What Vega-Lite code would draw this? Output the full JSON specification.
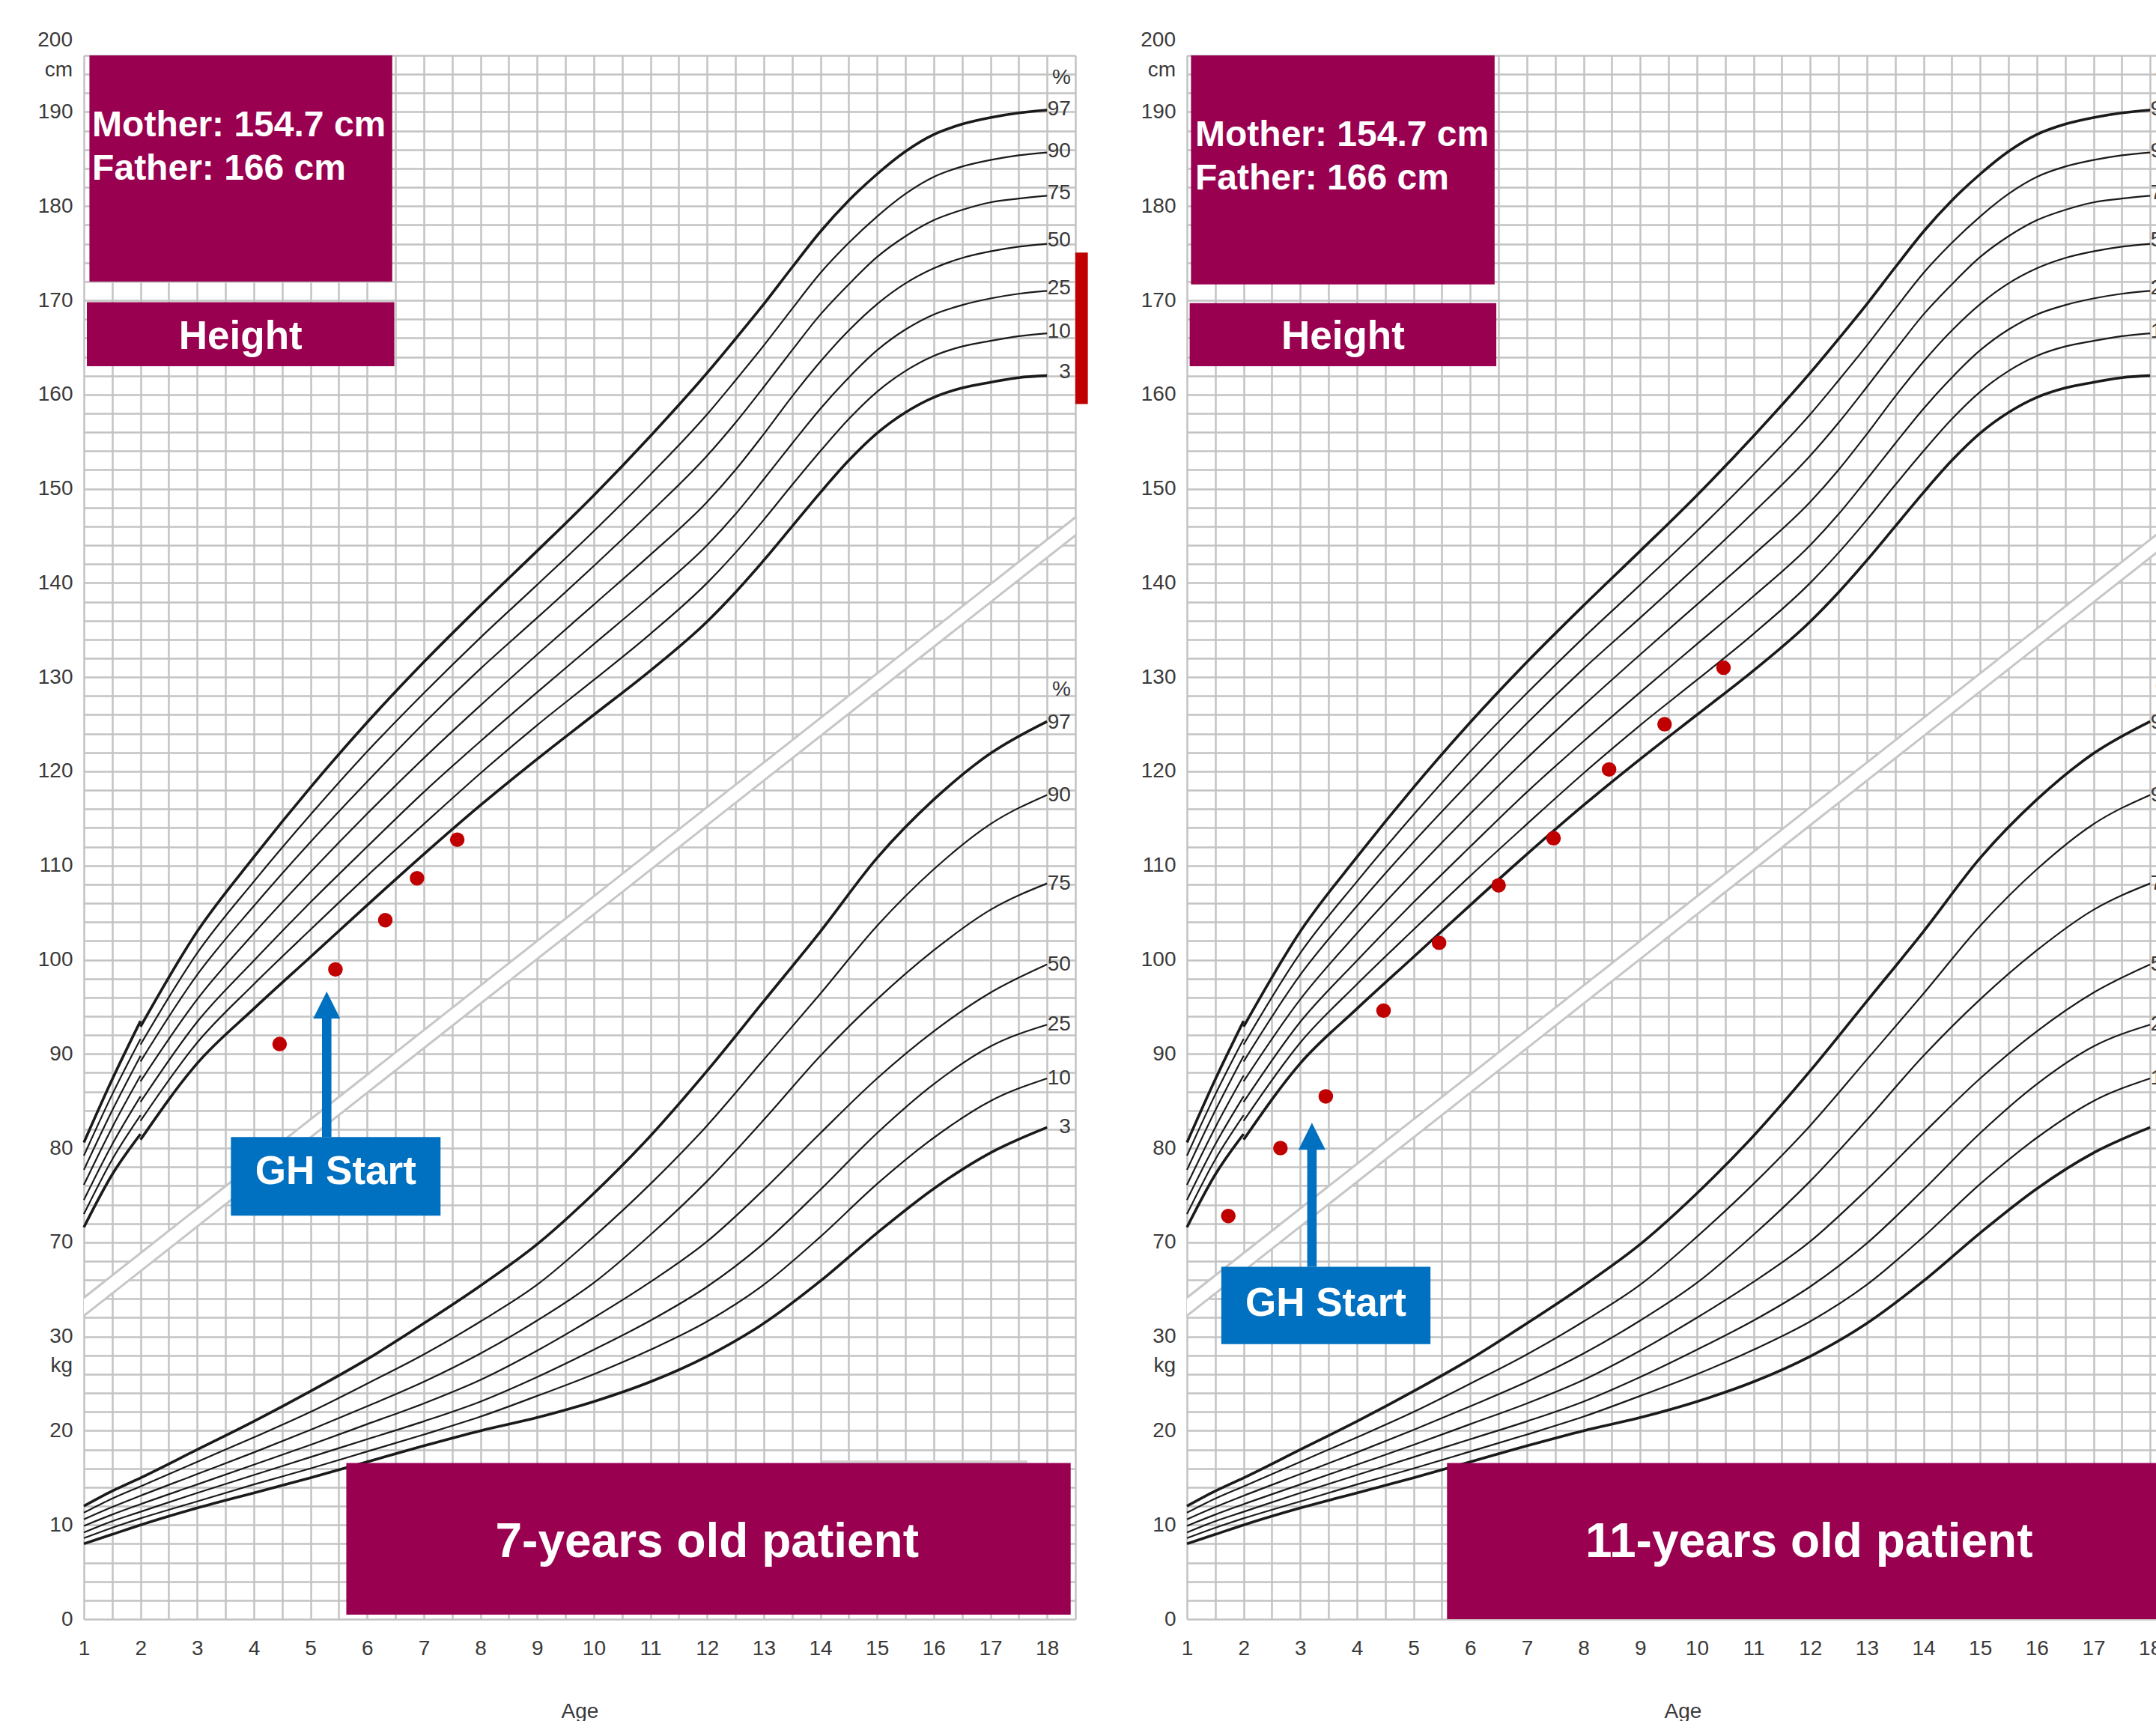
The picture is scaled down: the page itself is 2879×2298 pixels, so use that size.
{
  "$schema": "https://vega.github.io/schema/vega-lite/v6.json",
  "background": "white",
  "padding": {"left": 50, "top": 39, "right": 0, "bottom": 0},
  "spacing": 149,
  "bounds": "flush",
  "config": {
    "view": {"stroke": null},
    "axis": {"domain": false, "ticks": false, "labelFont": "Liberation Sans", "labelFontSize": 28, "labelColor": "#3a3a3a",
      "titleFont": "Liberation Sans", "titleFontSize": 28, "titleFontWeight": "normal", "titleColor": "#3a3a3a"}
  },
  "datasets": {
    "height": [
      {"age":1,"pct":97,"seg":"a","cm":80.6},{"age":1.5,"pct":97,"seg":"a","cm":87.3},{"age":2,"pct":97,"seg":"a","cm":93.5},{"age":2,"pct":97,"seg":"b","cm":92.9},{"age":3,"pct":97,"seg":"b","cm":103.0},{"age":4,"pct":97,"seg":"b","cm":110.9},{"age":5,"pct":97,"seg":"b","cm":118.3},{"age":6,"pct":97,"seg":"b","cm":125.2},{"age":7,"pct":97,"seg":"b","cm":131.6},{"age":8,"pct":97,"seg":"b","cm":137.6},{"age":9,"pct":97,"seg":"b","cm":143.4},{"age":10,"pct":97,"seg":"b","cm":149.3},{"age":11,"pct":97,"seg":"b","cm":155.6},{"age":12,"pct":97,"seg":"b","cm":162.3},{"age":12.5,"pct":97,"seg":"b","cm":165.9},{"age":13,"pct":97,"seg":"b","cm":169.6},{"age":13.5,"pct":97,"seg":"b","cm":173.5},{"age":14,"pct":97,"seg":"b","cm":177.3},{"age":14.5,"pct":97,"seg":"b","cm":180.6},{"age":15,"pct":97,"seg":"b","cm":183.4},{"age":15.5,"pct":97,"seg":"b","cm":185.8},{"age":16,"pct":97,"seg":"b","cm":187.6},{"age":16.5,"pct":97,"seg":"b","cm":188.7},{"age":17,"pct":97,"seg":"b","cm":189.4},{"age":17.5,"pct":97,"seg":"b","cm":189.9},{"age":18,"pct":97,"seg":"b","cm":190.2},
      {"age":1,"pct":90,"seg":"a","cm":79.2},{"age":1.5,"pct":90,"seg":"a","cm":85.7},{"age":2,"pct":90,"seg":"a","cm":91.6},{"age":2,"pct":90,"seg":"b","cm":91.0},{"age":3,"pct":90,"seg":"b","cm":100.7},{"age":4,"pct":90,"seg":"b","cm":108.3},{"age":5,"pct":90,"seg":"b","cm":115.4},{"age":6,"pct":90,"seg":"b","cm":122.1},{"age":7,"pct":90,"seg":"b","cm":128.3},{"age":8,"pct":90,"seg":"b","cm":134.2},{"age":9,"pct":90,"seg":"b","cm":139.8},{"age":10,"pct":90,"seg":"b","cm":145.5},{"age":11,"pct":90,"seg":"b","cm":151.5},{"age":12,"pct":90,"seg":"b","cm":157.9},{"age":12.5,"pct":90,"seg":"b","cm":161.5},{"age":13,"pct":90,"seg":"b","cm":165.2},{"age":13.5,"pct":90,"seg":"b","cm":169.1},{"age":14,"pct":90,"seg":"b","cm":172.9},{"age":14.5,"pct":90,"seg":"b","cm":176.1},{"age":15,"pct":90,"seg":"b","cm":178.9},{"age":15.5,"pct":90,"seg":"b","cm":181.3},{"age":16,"pct":90,"seg":"b","cm":183.1},{"age":16.5,"pct":90,"seg":"b","cm":184.2},{"age":17,"pct":90,"seg":"b","cm":184.9},{"age":17.5,"pct":90,"seg":"b","cm":185.4},{"age":18,"pct":90,"seg":"b","cm":185.7},
      {"age":1,"pct":75,"seg":"a","cm":77.7},{"age":1.5,"pct":75,"seg":"a","cm":84.0},{"age":2,"pct":75,"seg":"a","cm":89.8},{"age":2,"pct":75,"seg":"b","cm":89.2},{"age":3,"pct":75,"seg":"b","cm":98.4},{"age":4,"pct":75,"seg":"b","cm":105.7},{"age":5,"pct":75,"seg":"b","cm":112.5},{"age":6,"pct":75,"seg":"b","cm":118.9},{"age":7,"pct":75,"seg":"b","cm":125.1},{"age":8,"pct":75,"seg":"b","cm":130.9},{"age":9,"pct":75,"seg":"b","cm":136.3},{"age":10,"pct":75,"seg":"b","cm":141.8},{"age":11,"pct":75,"seg":"b","cm":147.5},{"age":12,"pct":75,"seg":"b","cm":153.5},{"age":12.5,"pct":75,"seg":"b","cm":157.0},{"age":13,"pct":75,"seg":"b","cm":160.8},{"age":13.5,"pct":75,"seg":"b","cm":164.7},{"age":14,"pct":75,"seg":"b","cm":168.5},{"age":14.5,"pct":75,"seg":"b","cm":171.7},{"age":15,"pct":75,"seg":"b","cm":174.6},{"age":15.5,"pct":75,"seg":"b","cm":176.8},{"age":16,"pct":75,"seg":"b","cm":178.5},{"age":16.5,"pct":75,"seg":"b","cm":179.6},{"age":17,"pct":75,"seg":"b","cm":180.4},{"age":17.5,"pct":75,"seg":"b","cm":180.8},{"age":18,"pct":75,"seg":"b","cm":181.1},
      {"age":1,"pct":50,"seg":"a","cm":76.1},{"age":1.5,"pct":50,"seg":"a","cm":82.2},{"age":2,"pct":50,"seg":"a","cm":87.7},{"age":2,"pct":50,"seg":"b","cm":87.1},{"age":3,"pct":50,"seg":"b","cm":95.8},{"age":4,"pct":50,"seg":"b","cm":102.8},{"age":5,"pct":50,"seg":"b","cm":109.3},{"age":6,"pct":50,"seg":"b","cm":115.5},{"age":7,"pct":50,"seg":"b","cm":121.4},{"age":8,"pct":50,"seg":"b","cm":127.0},{"age":9,"pct":50,"seg":"b","cm":132.4},{"age":10,"pct":50,"seg":"b","cm":137.7},{"age":11,"pct":50,"seg":"b","cm":143.0},{"age":12,"pct":50,"seg":"b","cm":148.6},{"age":12.5,"pct":50,"seg":"b","cm":152.0},{"age":13,"pct":50,"seg":"b","cm":155.8},{"age":13.5,"pct":50,"seg":"b","cm":159.8},{"age":14,"pct":50,"seg":"b","cm":163.5},{"age":14.5,"pct":50,"seg":"b","cm":166.8},{"age":15,"pct":50,"seg":"b","cm":169.6},{"age":15.5,"pct":50,"seg":"b","cm":171.8},{"age":16,"pct":50,"seg":"b","cm":173.4},{"age":16.5,"pct":50,"seg":"b","cm":174.5},{"age":17,"pct":50,"seg":"b","cm":175.2},{"age":17.5,"pct":50,"seg":"b","cm":175.7},{"age":18,"pct":50,"seg":"b","cm":176.0},
      {"age":1,"pct":25,"seg":"a","cm":74.5},{"age":1.5,"pct":25,"seg":"a","cm":80.4},{"age":2,"pct":25,"seg":"a","cm":85.5},{"age":2,"pct":25,"seg":"b","cm":84.9},{"age":3,"pct":25,"seg":"b","cm":93.4},{"age":4,"pct":25,"seg":"b","cm":99.9},{"age":5,"pct":25,"seg":"b","cm":106.1},{"age":6,"pct":25,"seg":"b","cm":112.0},{"age":7,"pct":25,"seg":"b","cm":117.8},{"age":8,"pct":25,"seg":"b","cm":123.2},{"age":9,"pct":25,"seg":"b","cm":128.4},{"age":10,"pct":25,"seg":"b","cm":133.5},{"age":11,"pct":25,"seg":"b","cm":138.6},{"age":12,"pct":25,"seg":"b","cm":144.0},{"age":12.5,"pct":25,"seg":"b","cm":147.3},{"age":13,"pct":25,"seg":"b","cm":151.0},{"age":13.5,"pct":25,"seg":"b","cm":154.8},{"age":14,"pct":25,"seg":"b","cm":158.5},{"age":14.5,"pct":25,"seg":"b","cm":161.8},{"age":15,"pct":25,"seg":"b","cm":164.7},{"age":15.5,"pct":25,"seg":"b","cm":166.9},{"age":16,"pct":25,"seg":"b","cm":168.5},{"age":16.5,"pct":25,"seg":"b","cm":169.5},{"age":17,"pct":25,"seg":"b","cm":170.2},{"age":17.5,"pct":25,"seg":"b","cm":170.7},{"age":18,"pct":25,"seg":"b","cm":171.0},
      {"age":1,"pct":10,"seg":"a","cm":73.0},{"age":1.5,"pct":10,"seg":"a","cm":78.8},{"age":2,"pct":10,"seg":"a","cm":83.5},{"age":2,"pct":10,"seg":"b","cm":82.9},{"age":3,"pct":10,"seg":"b","cm":91.2},{"age":4,"pct":10,"seg":"b","cm":97.4},{"age":5,"pct":10,"seg":"b","cm":103.2},{"age":6,"pct":10,"seg":"b","cm":108.9},{"age":7,"pct":10,"seg":"b","cm":114.4},{"age":8,"pct":10,"seg":"b","cm":119.8},{"age":9,"pct":10,"seg":"b","cm":124.9},{"age":10,"pct":10,"seg":"b","cm":129.7},{"age":11,"pct":10,"seg":"b","cm":134.6},{"age":12,"pct":10,"seg":"b","cm":140.0},{"age":12.5,"pct":10,"seg":"b","cm":143.2},{"age":13,"pct":10,"seg":"b","cm":146.7},{"age":13.5,"pct":10,"seg":"b","cm":150.4},{"age":14,"pct":10,"seg":"b","cm":154.0},{"age":14.5,"pct":10,"seg":"b","cm":157.4},{"age":15,"pct":10,"seg":"b","cm":160.3},{"age":15.5,"pct":10,"seg":"b","cm":162.5},{"age":16,"pct":10,"seg":"b","cm":164.1},{"age":16.5,"pct":10,"seg":"b","cm":165.1},{"age":17,"pct":10,"seg":"b","cm":165.7},{"age":17.5,"pct":10,"seg":"b","cm":166.2},{"age":18,"pct":10,"seg":"b","cm":166.5},
      {"age":1,"pct":3,"seg":"a","cm":71.6},{"age":1.5,"pct":3,"seg":"a","cm":77.2},{"age":2,"pct":3,"seg":"a","cm":81.5},{"age":2,"pct":3,"seg":"b","cm":80.9},{"age":3,"pct":3,"seg":"b","cm":89.0},{"age":4,"pct":3,"seg":"b","cm":94.8},{"age":5,"pct":3,"seg":"b","cm":100.3},{"age":6,"pct":3,"seg":"b","cm":105.8},{"age":7,"pct":3,"seg":"b","cm":111.2},{"age":8,"pct":3,"seg":"b","cm":116.4},{"age":9,"pct":3,"seg":"b","cm":121.3},{"age":10,"pct":3,"seg":"b","cm":126.0},{"age":11,"pct":3,"seg":"b","cm":130.7},{"age":12,"pct":3,"seg":"b","cm":135.9},{"age":12.5,"pct":3,"seg":"b","cm":139.0},{"age":13,"pct":3,"seg":"b","cm":142.4},{"age":13.5,"pct":3,"seg":"b","cm":146.0},{"age":14,"pct":3,"seg":"b","cm":149.6},{"age":14.5,"pct":3,"seg":"b","cm":153.0},{"age":15,"pct":3,"seg":"b","cm":155.9},{"age":15.5,"pct":3,"seg":"b","cm":158.1},{"age":16,"pct":3,"seg":"b","cm":159.7},{"age":16.5,"pct":3,"seg":"b","cm":160.7},{"age":17,"pct":3,"seg":"b","cm":161.3},{"age":17.5,"pct":3,"seg":"b","cm":161.8},{"age":18,"pct":3,"seg":"b","cm":162.0}
    ],
    "weight": [
      {"age":1,"pct":97,"kg":12.0},{"age":1.5,"pct":97,"kg":13.6},{"age":2,"pct":97,"kg":15.0},{"age":3,"pct":97,"kg":18.0},{"age":4,"pct":97,"kg":21.0},{"age":5,"pct":97,"kg":24.2},{"age":6,"pct":97,"kg":27.6},{"age":7,"pct":97,"kg":31.4},{"age":8,"pct":97,"kg":35.4},{"age":9,"pct":97,"kg":39.8},{"age":10,"pct":97,"kg":45.2},{"age":11,"pct":97,"kg":51.3},{"age":12,"pct":97,"kg":58.2},{"age":13,"pct":97,"kg":65.6},{"age":14,"pct":97,"kg":73.0},{"age":15,"pct":97,"kg":80.8},{"age":16,"pct":97,"kg":87.0},{"age":17,"pct":97,"kg":91.9},{"age":18,"pct":97,"kg":95.3},
      {"age":1,"pct":90,"kg":11.3},{"age":1.5,"pct":90,"kg":12.8},{"age":2,"pct":90,"kg":14.1},{"age":3,"pct":90,"kg":16.7},{"age":4,"pct":90,"kg":19.3},{"age":5,"pct":90,"kg":22.0},{"age":6,"pct":90,"kg":25.0},{"age":7,"pct":90,"kg":28.1},{"age":8,"pct":90,"kg":31.6},{"age":9,"pct":90,"kg":35.5},{"age":10,"pct":90,"kg":40.6},{"age":11,"pct":90,"kg":46.2},{"age":12,"pct":90,"kg":52.4},{"age":13,"pct":90,"kg":59.4},{"age":14,"pct":90,"kg":66.4},{"age":15,"pct":90,"kg":73.6},{"age":16,"pct":90,"kg":79.6},{"age":17,"pct":90,"kg":84.4},{"age":18,"pct":90,"kg":87.5},
      {"age":1,"pct":75,"kg":10.6},{"age":1.5,"pct":75,"kg":11.9},{"age":2,"pct":75,"kg":13.1},{"age":3,"pct":75,"kg":15.4},{"age":4,"pct":75,"kg":17.7},{"age":5,"pct":75,"kg":20.1},{"age":6,"pct":75,"kg":22.6},{"age":7,"pct":75,"kg":25.2},{"age":8,"pct":75,"kg":28.2},{"age":9,"pct":75,"kg":31.7},{"age":10,"pct":75,"kg":35.7},{"age":11,"pct":75,"kg":40.8},{"age":12,"pct":75,"kg":46.5},{"age":13,"pct":75,"kg":53.0},{"age":14,"pct":75,"kg":59.8},{"age":15,"pct":75,"kg":65.8},{"age":16,"pct":75,"kg":71.0},{"age":17,"pct":75,"kg":75.3},{"age":18,"pct":75,"kg":78.1},
      {"age":1,"pct":50,"kg":9.9},{"age":1.5,"pct":50,"kg":11.1},{"age":2,"pct":50,"kg":12.2},{"age":3,"pct":50,"kg":14.3},{"age":4,"pct":50,"kg":16.4},{"age":5,"pct":50,"kg":18.5},{"age":6,"pct":50,"kg":20.7},{"age":7,"pct":50,"kg":22.9},{"age":8,"pct":50,"kg":25.4},{"age":9,"pct":50,"kg":28.5},{"age":10,"pct":50,"kg":32.0},{"age":11,"pct":50,"kg":35.8},{"age":12,"pct":50,"kg":40.1},{"age":13,"pct":50,"kg":45.6},{"age":14,"pct":50,"kg":51.6},{"age":15,"pct":50,"kg":57.4},{"age":16,"pct":50,"kg":62.4},{"age":17,"pct":50,"kg":66.5},{"age":18,"pct":50,"kg":69.5},
      {"age":1,"pct":25,"kg":9.2},{"age":1.5,"pct":25,"kg":10.4},{"age":2,"pct":25,"kg":11.4},{"age":3,"pct":25,"kg":13.4},{"age":4,"pct":25,"kg":15.3},{"age":5,"pct":25,"kg":17.2},{"age":6,"pct":25,"kg":19.1},{"age":7,"pct":25,"kg":21.0},{"age":8,"pct":25,"kg":23.1},{"age":9,"pct":25,"kg":25.7},{"age":10,"pct":25,"kg":28.6},{"age":11,"pct":25,"kg":31.7},{"age":12,"pct":25,"kg":35.3},{"age":13,"pct":25,"kg":39.9},{"age":14,"pct":25,"kg":45.6},{"age":15,"pct":25,"kg":51.6},{"age":16,"pct":25,"kg":56.8},{"age":17,"pct":25,"kg":60.8},{"age":18,"pct":25,"kg":63.1},
      {"age":1,"pct":10,"kg":8.6},{"age":1.5,"pct":10,"kg":9.7},{"age":2,"pct":10,"kg":10.7},{"age":3,"pct":10,"kg":12.5},{"age":4,"pct":10,"kg":14.3},{"age":5,"pct":10,"kg":16.0},{"age":6,"pct":10,"kg":17.8},{"age":7,"pct":10,"kg":19.6},{"age":8,"pct":10,"kg":21.5},{"age":9,"pct":10,"kg":23.7},{"age":10,"pct":10,"kg":26.0},{"age":11,"pct":10,"kg":28.6},{"age":12,"pct":10,"kg":31.6},{"age":13,"pct":10,"kg":35.5},{"age":14,"pct":10,"kg":40.6},{"age":15,"pct":10,"kg":46.2},{"age":16,"pct":10,"kg":51.1},{"age":17,"pct":10,"kg":55.0},{"age":18,"pct":10,"kg":57.4},
      {"age":1,"pct":3,"kg":8.0},{"age":1.5,"pct":3,"kg":9.0},{"age":2,"pct":3,"kg":10.0},{"age":3,"pct":3,"kg":11.8},{"age":4,"pct":3,"kg":13.4},{"age":5,"pct":3,"kg":15.0},{"age":6,"pct":3,"kg":16.7},{"age":7,"pct":3,"kg":18.4},{"age":8,"pct":3,"kg":20.0},{"age":9,"pct":3,"kg":21.4},{"age":10,"pct":3,"kg":23.1},{"age":11,"pct":3,"kg":25.2},{"age":12,"pct":3,"kg":27.9},{"age":13,"pct":3,"kg":31.4},{"age":14,"pct":3,"kg":35.9},{"age":15,"pct":3,"kg":41.0},{"age":16,"pct":3,"kg":45.7},{"age":17,"pct":3,"kg":49.5},{"age":18,"pct":3,"kg":52.2}
    ],
    "band": [{"age":0.5,"cm":60.8},{"age":18.9,"cm":147.9}],
    "hlab": [{"age":18.42,"cm":193.6,"t":"%"},{"age":18.42,"cm":190.3,"t":"97"},{"age":18.42,"cm":185.8,"t":"90"},{"age":18.42,"cm":181.4,"t":"75"},{"age":18.42,"cm":176.4,"t":"50"},{"age":18.42,"cm":171.3,"t":"25"},{"age":18.42,"cm":166.7,"t":"10"},{"age":18.42,"cm":162.4,"t":"3"}],
    "wlab": [{"age":18.42,"kg":98.7,"t":"%"},{"age":18.42,"kg":95.2,"t":"97"},{"age":18.42,"kg":87.45,"t":"90"},{"age":18.42,"kg":78.1,"t":"75"},{"age":18.42,"kg":69.5,"t":"50"},{"age":18.42,"kg":63.1,"t":"25"},{"age":18.42,"kg":57.4,"t":"10"},{"age":18.42,"kg":52.25,"t":"3"}],
    "side": [{"age":1,"cm":197.6,"t":"200"},{"age":1,"cm":194.4,"t":"cm"},{"age":1,"cm":56.9,"t":"kg"}]
  },
  "hconcat": [
    {
      "width": 1324, "height": 2088,
      "resolve": {"scale": {"y": "independent"}},
      "layer": [
        {"data": {"name": "band"},
         "mark": {"type": "line", "color": "#c6c6c6", "strokeWidth": 22, "strokeCap": "butt", "clip": true},
         "encoding": {
           "x": {"field": "age", "type": "quantitative", "title": "Age", "scale": {"domain": [1, 18.5]}, "axis": {"values": [1,1.5,2,2.5,3,3.5,4,4.5,5,5.5,6,6.5,7,7.5,8,8.5,9,9.5,10,10.5,11,11.5,12,12.5,13,13.5,14,14.5,15,15.5,16,16.5,17,17.5,18,18.5], "labelExpr": "datum.value % 1 == 0 ? '' + datum.value : ''", "labelPadding": 25, "titlePadding": 56, "grid": true, "gridColor": "#c3c3c3", "gridWidth": 2.5, "labelOverlap": false, "labelBound": false, "labelFlush": false, "ticks": false, "domain": false}},
           "y": {"field": "cm", "type": "quantitative", "title": null, "scale": {"domain": [30, 196]},
             "axis": {"orient": "left", "values": [30,32,34,36,38,40,42,44,46,48,50,52,54,56,58,60,62,64,66,68,70,72,74,76,78,80,82,84,86,88,90,92,94,96,98,100,102,104,106,108,110,112,114,116,118,120,122,124,126,128,130,132,134,136,138,140,142,144,146,148,150,152,154,156,158,160,162,164,166,168,170,172,174,176,178,180,182,184,186,188,190,192,194,196],
               "labelExpr": "datum.value % 10 != 0 ? '' : (datum.value >= 70 ? '' + datum.value : '' + (datum.value - 30))", "labelPadding": 15,
               "grid": true, "gridColor": "#c3c3c3", "gridWidth": 2.5, "gridOpacity": 1, "labelOverlap": false, "labelBound": false, "labelFlush": false, "ticks": false, "domain": false}}}},
        {"data": {"name": "band"},
         "mark": {"type": "line", "color": "#ffffff", "strokeWidth": 16, "strokeCap": "butt", "clip": true},
         "encoding": {
           "x": {"field": "age", "type": "quantitative", "title": "Age", "scale": {"domain": [1, 18.5]}, "axis": {"values": [1,1.5,2,2.5,3,3.5,4,4.5,5,5.5,6,6.5,7,7.5,8,8.5,9,9.5,10,10.5,11,11.5,12,12.5,13,13.5,14,14.5,15,15.5,16,16.5,17,17.5,18,18.5], "labelExpr": "datum.value % 1 == 0 ? '' + datum.value : ''", "labelPadding": 25, "titlePadding": 56, "grid": true, "gridColor": "#c3c3c3", "gridWidth": 2.5, "labelOverlap": false, "labelBound": false, "labelFlush": false, "ticks": false, "domain": false}},
           "y": {"field": "cm", "type": "quantitative", "axis": null, "scale": {"domain": [30, 196]}}}},
        {"data": {"name": "weight"},
         "mark": {"type": "line", "interpolate": "monotone", "color": "#1a1a1a"},
         "encoding": {
           "x": {"field": "age", "type": "quantitative", "title": "Age", "scale": {"domain": [1, 18.5]}, "axis": {"values": [1,1.5,2,2.5,3,3.5,4,4.5,5,5.5,6,6.5,7,7.5,8,8.5,9,9.5,10,10.5,11,11.5,12,12.5,13,13.5,14,14.5,15,15.5,16,16.5,17,17.5,18,18.5], "labelExpr": "datum.value % 1 == 0 ? '' + datum.value : ''", "labelPadding": 25, "titlePadding": 56, "grid": true, "gridColor": "#c3c3c3", "gridWidth": 2.5, "labelOverlap": false, "labelBound": false, "labelFlush": false, "ticks": false, "domain": false}},
           "y": {"field": "kg", "type": "quantitative", "axis": null, "scale": {"domain": [0, 166]}},
           "detail": {"field": "pct", "type": "nominal"},
           "strokeWidth": {"condition": {"test": "datum.pct == 3 || datum.pct == 97", "value": 3.6}, "value": 2.2}}},
        {"data": {"name": "wlab"},
         "mark": {"type": "text", "align": "right", "baseline": "middle", "font": "Liberation Sans", "fontSize": 28, "color": "#3a3a3a"},
         "encoding": {
           "x": {"field": "age", "type": "quantitative", "title": "Age", "scale": {"domain": [1, 18.5]}, "axis": {"values": [1,1.5,2,2.5,3,3.5,4,4.5,5,5.5,6,6.5,7,7.5,8,8.5,9,9.5,10,10.5,11,11.5,12,12.5,13,13.5,14,14.5,15,15.5,16,16.5,17,17.5,18,18.5], "labelExpr": "datum.value % 1 == 0 ? '' + datum.value : ''", "labelPadding": 25, "titlePadding": 56, "grid": true, "gridColor": "#c3c3c3", "gridWidth": 2.5, "labelOverlap": false, "labelBound": false, "labelFlush": false, "ticks": false, "domain": false}},
           "y": {"field": "kg", "type": "quantitative", "axis": null, "scale": {"domain": [0, 166]}},
           "text": {"field": "t"}}},
        {"data": {"name": "height"},
         "mark": {"type": "line", "interpolate": "monotone", "color": "#1a1a1a"},
         "encoding": {
           "x": {"field": "age", "type": "quantitative", "title": "Age", "scale": {"domain": [1, 18.5]}, "axis": {"values": [1,1.5,2,2.5,3,3.5,4,4.5,5,5.5,6,6.5,7,7.5,8,8.5,9,9.5,10,10.5,11,11.5,12,12.5,13,13.5,14,14.5,15,15.5,16,16.5,17,17.5,18,18.5], "labelExpr": "datum.value % 1 == 0 ? '' + datum.value : ''", "labelPadding": 25, "titlePadding": 56, "grid": true, "gridColor": "#c3c3c3", "gridWidth": 2.5, "labelOverlap": false, "labelBound": false, "labelFlush": false, "ticks": false, "domain": false}},
           "y": {"field": "cm", "type": "quantitative", "axis": null, "scale": {"domain": [30, 196]}},
           "detail": [{"field": "pct", "type": "nominal"}, {"field": "seg", "type": "nominal"}],
           "strokeWidth": {"condition": {"test": "datum.pct == 3 || datum.pct == 97", "value": 3.6}, "value": 2.2}}},
        {"data": {"name": "hlab"},
         "mark": {"type": "text", "align": "right", "baseline": "middle", "font": "Liberation Sans", "fontSize": 28, "color": "#3a3a3a"},
         "encoding": {
           "x": {"field": "age", "type": "quantitative", "title": "Age", "scale": {"domain": [1, 18.5]}, "axis": {"values": [1,1.5,2,2.5,3,3.5,4,4.5,5,5.5,6,6.5,7,7.5,8,8.5,9,9.5,10,10.5,11,11.5,12,12.5,13,13.5,14,14.5,15,15.5,16,16.5,17,17.5,18,18.5], "labelExpr": "datum.value % 1 == 0 ? '' + datum.value : ''", "labelPadding": 25, "titlePadding": 56, "grid": true, "gridColor": "#c3c3c3", "gridWidth": 2.5, "labelOverlap": false, "labelBound": false, "labelFlush": false, "ticks": false, "domain": false}},
           "y": {"field": "cm", "type": "quantitative", "axis": null, "scale": {"domain": [30, 196]}},
           "text": {"field": "t"}}},
        {"data": {"values": [{"x1":14.03,"x2":17.65,"y1":46.57,"y2":46.85}]},
         "mark": {"type": "rect", "color": "#d4d4d4"},
         "encoding": {
           "x": {"field": "x1", "type": "quantitative", "title": "Age", "scale": {"domain": [1, 18.5]}, "axis": {"values": [1,1.5,2,2.5,3,3.5,4,4.5,5,5.5,6,6.5,7,7.5,8,8.5,9,9.5,10,10.5,11,11.5,12,12.5,13,13.5,14,14.5,15,15.5,16,16.5,17,17.5,18,18.5], "labelExpr": "datum.value % 1 == 0 ? '' + datum.value : ''", "labelPadding": 25, "titlePadding": 56, "grid": true, "gridColor": "#c3c3c3", "gridWidth": 2.5, "labelOverlap": false, "labelBound": false, "labelFlush": false, "ticks": false, "domain": false}},
           "x2": {"field": "x2"},
           "y": {"field": "y1", "type": "quantitative", "axis": null, "scale": {"domain": [30, 196]}},
           "y2": {"field": "y2"}}},
        {"data": {"values": [{"x1":1.098,"x2":6.443,"y1":172.0,"y2":196},{"x1":1.053,"x2":6.479,"y1":163.0,"y2":169.8},{"x1":5.632,"x2":18.417,"y1":30.48,"y2":46.57}]},
         "mark": {"type": "rect", "color": "#990050"},
         "encoding": {
           "x": {"field": "x1", "type": "quantitative", "title": "Age", "scale": {"domain": [1, 18.5]}, "axis": {"values": [1,1.5,2,2.5,3,3.5,4,4.5,5,5.5,6,6.5,7,7.5,8,8.5,9,9.5,10,10.5,11,11.5,12,12.5,13,13.5,14,14.5,15,15.5,16,16.5,17,17.5,18,18.5], "labelExpr": "datum.value % 1 == 0 ? '' + datum.value : ''", "labelPadding": 25, "titlePadding": 56, "grid": true, "gridColor": "#c3c3c3", "gridWidth": 2.5, "labelOverlap": false, "labelBound": false, "labelFlush": false, "ticks": false, "domain": false}},
           "x2": {"field": "x2"},
           "y": {"field": "y1", "type": "quantitative", "axis": null, "scale": {"domain": [30, 196]}},
           "y2": {"field": "y2"}}},
        {"data": {"values": [{"x1":3.595,"x2":7.295,"y1":72.84,"y2":81.18}]},
         "mark": {"type": "rect", "color": "#0070c0"},
         "encoding": {
           "x": {"field": "x1", "type": "quantitative", "title": "Age", "scale": {"domain": [1, 18.5]}, "axis": {"values": [1,1.5,2,2.5,3,3.5,4,4.5,5,5.5,6,6.5,7,7.5,8,8.5,9,9.5,10,10.5,11,11.5,12,12.5,13,13.5,14,14.5,15,15.5,16,16.5,17,17.5,18,18.5], "labelExpr": "datum.value % 1 == 0 ? '' + datum.value : ''", "labelPadding": 25, "titlePadding": 56, "grid": true, "gridColor": "#c3c3c3", "gridWidth": 2.5, "labelOverlap": false, "labelBound": false, "labelFlush": false, "ticks": false, "domain": false}},
           "x2": {"field": "x2"},
           "y": {"field": "y1", "type": "quantitative", "axis": null, "scale": {"domain": [30, 196]}},
           "y2": {"field": "y2"}}},
        {"data": {"values": [{"x1":18.5,"x2":18.72,"y1":158.99,"y2":175.08}]},
         "mark": {"type": "rect", "color": "#c00000", "clip": false},
         "encoding": {
           "x": {"field": "x1", "type": "quantitative", "title": "Age", "scale": {"domain": [1, 18.5]}, "axis": {"values": [1,1.5,2,2.5,3,3.5,4,4.5,5,5.5,6,6.5,7,7.5,8,8.5,9,9.5,10,10.5,11,11.5,12,12.5,13,13.5,14,14.5,15,15.5,16,16.5,17,17.5,18,18.5], "labelExpr": "datum.value % 1 == 0 ? '' + datum.value : ''", "labelPadding": 25, "titlePadding": 56, "grid": true, "gridColor": "#c3c3c3", "gridWidth": 2.5, "labelOverlap": false, "labelBound": false, "labelFlush": false, "ticks": false, "domain": false}},
           "x2": {"field": "x2"},
           "y": {"field": "y1", "type": "quantitative", "axis": null, "scale": {"domain": [30, 196]}},
           "y2": {"field": "y2"}}},
        {"data": {"values": [{"age":1.147,"cm":187.4,"t":"Mother: 154.7 cm"},{"age":1.147,"cm":182.8,"t":"Father: 166 cm"}]},
         "mark": {"type": "text", "align": "left", "baseline": "alphabetic", "font": "Liberation Sans", "fontWeight": "bold", "fontSize": 48, "color": "#ffffff"},
         "encoding": {
           "x": {"field": "age", "type": "quantitative", "title": "Age", "scale": {"domain": [1, 18.5]}, "axis": {"values": [1,1.5,2,2.5,3,3.5,4,4.5,5,5.5,6,6.5,7,7.5,8,8.5,9,9.5,10,10.5,11,11.5,12,12.5,13,13.5,14,14.5,15,15.5,16,16.5,17,17.5,18,18.5], "labelExpr": "datum.value % 1 == 0 ? '' + datum.value : ''", "labelPadding": 25, "titlePadding": 56, "grid": true, "gridColor": "#c3c3c3", "gridWidth": 2.5, "labelOverlap": false, "labelBound": false, "labelFlush": false, "ticks": false, "domain": false}},
           "y": {"field": "cm", "type": "quantitative", "axis": null, "scale": {"domain": [30, 196]}},
           "text": {"field": "t"}}},
        {"data": {"values": [{"age":3.766,"cm":164.8,"t":"Height"},{"age":5.445,"cm":76.2,"t":"GH Start"}]},
         "mark": {"type": "text", "align": "center", "baseline": "alphabetic", "font": "Liberation Sans", "fontWeight": "bold", "fontSize": 53, "color": "#ffffff"},
         "encoding": {
           "x": {"field": "age", "type": "quantitative", "title": "Age", "scale": {"domain": [1, 18.5]}, "axis": {"values": [1,1.5,2,2.5,3,3.5,4,4.5,5,5.5,6,6.5,7,7.5,8,8.5,9,9.5,10,10.5,11,11.5,12,12.5,13,13.5,14,14.5,15,15.5,16,16.5,17,17.5,18,18.5], "labelExpr": "datum.value % 1 == 0 ? '' + datum.value : ''", "labelPadding": 25, "titlePadding": 56, "grid": true, "gridColor": "#c3c3c3", "gridWidth": 2.5, "labelOverlap": false, "labelBound": false, "labelFlush": false, "ticks": false, "domain": false}},
           "y": {"field": "cm", "type": "quantitative", "axis": null, "scale": {"domain": [30, 196]}},
           "text": {"field": "t"}}},
        {"data": {"values": [{"age":12.0,"cm":36.6,"t":"7-years old patient"}]},
         "mark": {"type": "text", "align": "center", "baseline": "alphabetic", "font": "Liberation Sans", "fontWeight": "bold", "fontSize": 64, "color": "#ffffff"},
         "encoding": {
           "x": {"field": "age", "type": "quantitative", "title": "Age", "scale": {"domain": [1, 18.5]}, "axis": {"values": [1,1.5,2,2.5,3,3.5,4,4.5,5,5.5,6,6.5,7,7.5,8,8.5,9,9.5,10,10.5,11,11.5,12,12.5,13,13.5,14,14.5,15,15.5,16,16.5,17,17.5,18,18.5], "labelExpr": "datum.value % 1 == 0 ? '' + datum.value : ''", "labelPadding": 25, "titlePadding": 56, "grid": true, "gridColor": "#c3c3c3", "gridWidth": 2.5, "labelOverlap": false, "labelBound": false, "labelFlush": false, "ticks": false, "domain": false}},
           "y": {"field": "cm", "type": "quantitative", "axis": null, "scale": {"domain": [30, 196]}},
           "text": {"field": "t"}}},
        {"data": {"values": [{"age":5.286,"y1":81.18,"y2":93.9}]},
         "mark": {"type": "rule", "color": "#0070c0", "strokeWidth": 12.6},
         "encoding": {
           "x": {"field": "age", "type": "quantitative", "title": "Age", "scale": {"domain": [1, 18.5]}, "axis": {"values": [1,1.5,2,2.5,3,3.5,4,4.5,5,5.5,6,6.5,7,7.5,8,8.5,9,9.5,10,10.5,11,11.5,12,12.5,13,13.5,14,14.5,15,15.5,16,16.5,17,17.5,18,18.5], "labelExpr": "datum.value % 1 == 0 ? '' + datum.value : ''", "labelPadding": 25, "titlePadding": 56, "grid": true, "gridColor": "#c3c3c3", "gridWidth": 2.5, "labelOverlap": false, "labelBound": false, "labelFlush": false, "ticks": false, "domain": false}},
           "y": {"field": "y1", "type": "quantitative", "axis": null, "scale": {"domain": [30, 196]}},
           "y2": {"field": "y2"}}},
        {"data": {"values": [{"age":5.286,"cm":95.2}]},
         "mark": {"type": "point", "shape": "M0,-1L-1,1L1,1Z", "filled": true, "color": "#0070c0", "size": 1296, "opacity": 1, "strokeWidth": 0},
         "encoding": {
           "x": {"field": "age", "type": "quantitative", "title": "Age", "scale": {"domain": [1, 18.5]}, "axis": {"values": [1,1.5,2,2.5,3,3.5,4,4.5,5,5.5,6,6.5,7,7.5,8,8.5,9,9.5,10,10.5,11,11.5,12,12.5,13,13.5,14,14.5,15,15.5,16,16.5,17,17.5,18,18.5], "labelExpr": "datum.value % 1 == 0 ? '' + datum.value : ''", "labelPadding": 25, "titlePadding": 56, "grid": true, "gridColor": "#c3c3c3", "gridWidth": 2.5, "labelOverlap": false, "labelBound": false, "labelFlush": false, "ticks": false, "domain": false}},
           "y": {"field": "cm", "type": "quantitative", "axis": null, "scale": {"domain": [30, 196]}}}},
        {"data": {"values": [{"age":4.455,"cm":91.05},{"age":5.44,"cm":98.97},{"age":6.32,"cm":104.2},{"age":6.88,"cm":108.65},{"age":7.59,"cm":112.75}]},
         "mark": {"type": "circle", "color": "#c00000", "size": 380, "opacity": 1},
         "encoding": {
           "x": {"field": "age", "type": "quantitative", "title": "Age", "scale": {"domain": [1, 18.5]}, "axis": {"values": [1,1.5,2,2.5,3,3.5,4,4.5,5,5.5,6,6.5,7,7.5,8,8.5,9,9.5,10,10.5,11,11.5,12,12.5,13,13.5,14,14.5,15,15.5,16,16.5,17,17.5,18,18.5], "labelExpr": "datum.value % 1 == 0 ? '' + datum.value : ''", "labelPadding": 25, "titlePadding": 56, "grid": true, "gridColor": "#c3c3c3", "gridWidth": 2.5, "labelOverlap": false, "labelBound": false, "labelFlush": false, "ticks": false, "domain": false}},
           "y": {"field": "cm", "type": "quantitative", "axis": null, "scale": {"domain": [30, 196]}}}},
        {"data": {"name": "side"},
         "mark": {"type": "text", "align": "right", "baseline": "middle", "dx": -15, "font": "Liberation Sans", "fontSize": 28, "color": "#3a3a3a"},
         "encoding": {
           "x": {"field": "age", "type": "quantitative", "title": "Age", "scale": {"domain": [1, 18.5]}, "axis": {"values": [1,1.5,2,2.5,3,3.5,4,4.5,5,5.5,6,6.5,7,7.5,8,8.5,9,9.5,10,10.5,11,11.5,12,12.5,13,13.5,14,14.5,15,15.5,16,16.5,17,17.5,18,18.5], "labelExpr": "datum.value % 1 == 0 ? '' + datum.value : ''", "labelPadding": 25, "titlePadding": 56, "grid": true, "gridColor": "#c3c3c3", "gridWidth": 2.5, "labelOverlap": false, "labelBound": false, "labelFlush": false, "ticks": false, "domain": false}},
           "y": {"field": "cm", "type": "quantitative", "axis": null, "scale": {"domain": [30, 196]}},
           "text": {"field": "t"}}}
      ]
    },
    {
      "width": 1324, "height": 2088,
      "resolve": {"scale": {"y": "independent"}},
      "layer": [
        {"data": {"name": "band"},
         "mark": {"type": "line", "color": "#c6c6c6", "strokeWidth": 22, "strokeCap": "butt", "clip": true},
         "encoding": {
           "x": {"field": "age", "type": "quantitative", "title": "Age", "scale": {"domain": [1, 18.5]}, "axis": {"values": [1,1.5,2,2.5,3,3.5,4,4.5,5,5.5,6,6.5,7,7.5,8,8.5,9,9.5,10,10.5,11,11.5,12,12.5,13,13.5,14,14.5,15,15.5,16,16.5,17,17.5,18,18.5], "labelExpr": "datum.value % 1 == 0 ? '' + datum.value : ''", "labelPadding": 25, "titlePadding": 56, "grid": true, "gridColor": "#c3c3c3", "gridWidth": 2.5, "labelOverlap": false, "labelBound": false, "labelFlush": false, "ticks": false, "domain": false}},
           "y": {"field": "cm", "type": "quantitative", "title": null, "scale": {"domain": [30, 196]},
             "axis": {"orient": "left", "values": [30,32,34,36,38,40,42,44,46,48,50,52,54,56,58,60,62,64,66,68,70,72,74,76,78,80,82,84,86,88,90,92,94,96,98,100,102,104,106,108,110,112,114,116,118,120,122,124,126,128,130,132,134,136,138,140,142,144,146,148,150,152,154,156,158,160,162,164,166,168,170,172,174,176,178,180,182,184,186,188,190,192,194,196],
               "labelExpr": "datum.value % 10 != 0 ? '' : (datum.value >= 70 ? '' + datum.value : '' + (datum.value - 30))", "labelPadding": 15,
               "grid": true, "gridColor": "#c3c3c3", "gridWidth": 2.5, "gridOpacity": 1, "labelOverlap": false, "labelBound": false, "labelFlush": false, "ticks": false, "domain": false}}}},
        {"data": {"name": "band"},
         "mark": {"type": "line", "color": "#ffffff", "strokeWidth": 16, "strokeCap": "butt", "clip": true},
         "encoding": {
           "x": {"field": "age", "type": "quantitative", "title": "Age", "scale": {"domain": [1, 18.5]}, "axis": {"values": [1,1.5,2,2.5,3,3.5,4,4.5,5,5.5,6,6.5,7,7.5,8,8.5,9,9.5,10,10.5,11,11.5,12,12.5,13,13.5,14,14.5,15,15.5,16,16.5,17,17.5,18,18.5], "labelExpr": "datum.value % 1 == 0 ? '' + datum.value : ''", "labelPadding": 25, "titlePadding": 56, "grid": true, "gridColor": "#c3c3c3", "gridWidth": 2.5, "labelOverlap": false, "labelBound": false, "labelFlush": false, "ticks": false, "domain": false}},
           "y": {"field": "cm", "type": "quantitative", "axis": null, "scale": {"domain": [30, 196]}}}},
        {"data": {"name": "weight"},
         "mark": {"type": "line", "interpolate": "monotone", "color": "#1a1a1a"},
         "encoding": {
           "x": {"field": "age", "type": "quantitative", "title": "Age", "scale": {"domain": [1, 18.5]}, "axis": {"values": [1,1.5,2,2.5,3,3.5,4,4.5,5,5.5,6,6.5,7,7.5,8,8.5,9,9.5,10,10.5,11,11.5,12,12.5,13,13.5,14,14.5,15,15.5,16,16.5,17,17.5,18,18.5], "labelExpr": "datum.value % 1 == 0 ? '' + datum.value : ''", "labelPadding": 25, "titlePadding": 56, "grid": true, "gridColor": "#c3c3c3", "gridWidth": 2.5, "labelOverlap": false, "labelBound": false, "labelFlush": false, "ticks": false, "domain": false}},
           "y": {"field": "kg", "type": "quantitative", "axis": null, "scale": {"domain": [0, 166]}},
           "detail": {"field": "pct", "type": "nominal"},
           "strokeWidth": {"condition": {"test": "datum.pct == 3 || datum.pct == 97", "value": 3.6}, "value": 2.2}}},
        {"data": {"name": "wlab"},
         "mark": {"type": "text", "align": "right", "baseline": "middle", "font": "Liberation Sans", "fontSize": 28, "color": "#3a3a3a"},
         "encoding": {
           "x": {"field": "age", "type": "quantitative", "title": "Age", "scale": {"domain": [1, 18.5]}, "axis": {"values": [1,1.5,2,2.5,3,3.5,4,4.5,5,5.5,6,6.5,7,7.5,8,8.5,9,9.5,10,10.5,11,11.5,12,12.5,13,13.5,14,14.5,15,15.5,16,16.5,17,17.5,18,18.5], "labelExpr": "datum.value % 1 == 0 ? '' + datum.value : ''", "labelPadding": 25, "titlePadding": 56, "grid": true, "gridColor": "#c3c3c3", "gridWidth": 2.5, "labelOverlap": false, "labelBound": false, "labelFlush": false, "ticks": false, "domain": false}},
           "y": {"field": "kg", "type": "quantitative", "axis": null, "scale": {"domain": [0, 166]}},
           "text": {"field": "t"}}},
        {"data": {"name": "height"},
         "mark": {"type": "line", "interpolate": "monotone", "color": "#1a1a1a"},
         "encoding": {
           "x": {"field": "age", "type": "quantitative", "title": "Age", "scale": {"domain": [1, 18.5]}, "axis": {"values": [1,1.5,2,2.5,3,3.5,4,4.5,5,5.5,6,6.5,7,7.5,8,8.5,9,9.5,10,10.5,11,11.5,12,12.5,13,13.5,14,14.5,15,15.5,16,16.5,17,17.5,18,18.5], "labelExpr": "datum.value % 1 == 0 ? '' + datum.value : ''", "labelPadding": 25, "titlePadding": 56, "grid": true, "gridColor": "#c3c3c3", "gridWidth": 2.5, "labelOverlap": false, "labelBound": false, "labelFlush": false, "ticks": false, "domain": false}},
           "y": {"field": "cm", "type": "quantitative", "axis": null, "scale": {"domain": [30, 196]}},
           "detail": [{"field": "pct", "type": "nominal"}, {"field": "seg", "type": "nominal"}],
           "strokeWidth": {"condition": {"test": "datum.pct == 3 || datum.pct == 97", "value": 3.6}, "value": 2.2}}},
        {"data": {"name": "hlab"},
         "mark": {"type": "text", "align": "right", "baseline": "middle", "font": "Liberation Sans", "fontSize": 28, "color": "#3a3a3a"},
         "encoding": {
           "x": {"field": "age", "type": "quantitative", "title": "Age", "scale": {"domain": [1, 18.5]}, "axis": {"values": [1,1.5,2,2.5,3,3.5,4,4.5,5,5.5,6,6.5,7,7.5,8,8.5,9,9.5,10,10.5,11,11.5,12,12.5,13,13.5,14,14.5,15,15.5,16,16.5,17,17.5,18,18.5], "labelExpr": "datum.value % 1 == 0 ? '' + datum.value : ''", "labelPadding": 25, "titlePadding": 56, "grid": true, "gridColor": "#c3c3c3", "gridWidth": 2.5, "labelOverlap": false, "labelBound": false, "labelFlush": false, "ticks": false, "domain": false}},
           "y": {"field": "cm", "type": "quantitative", "axis": null, "scale": {"domain": [30, 196]}},
           "text": {"field": "t"}}},
        {"data": {"values": [{"x1":1.071,"x2":6.43,"y1":171.7,"y2":196},{"x1":1.048,"x2":6.46,"y1":163.0,"y2":169.7},{"x1":5.59,"x2":18.375,"y1":30.0,"y2":46.57}]},
         "mark": {"type": "rect", "color": "#990050"},
         "encoding": {
           "x": {"field": "x1", "type": "quantitative", "title": "Age", "scale": {"domain": [1, 18.5]}, "axis": {"values": [1,1.5,2,2.5,3,3.5,4,4.5,5,5.5,6,6.5,7,7.5,8,8.5,9,9.5,10,10.5,11,11.5,12,12.5,13,13.5,14,14.5,15,15.5,16,16.5,17,17.5,18,18.5], "labelExpr": "datum.value % 1 == 0 ? '' + datum.value : ''", "labelPadding": 25, "titlePadding": 56, "grid": true, "gridColor": "#c3c3c3", "gridWidth": 2.5, "labelOverlap": false, "labelBound": false, "labelFlush": false, "ticks": false, "domain": false}},
           "x2": {"field": "x2"},
           "y": {"field": "y1", "type": "quantitative", "axis": null, "scale": {"domain": [30, 196]}},
           "y2": {"field": "y2"}}},
        {"data": {"values": [{"x1":1.606,"x2":5.298,"y1":59.2,"y2":67.4}]},
         "mark": {"type": "rect", "color": "#0070c0"},
         "encoding": {
           "x": {"field": "x1", "type": "quantitative", "title": "Age", "scale": {"domain": [1, 18.5]}, "axis": {"values": [1,1.5,2,2.5,3,3.5,4,4.5,5,5.5,6,6.5,7,7.5,8,8.5,9,9.5,10,10.5,11,11.5,12,12.5,13,13.5,14,14.5,15,15.5,16,16.5,17,17.5,18,18.5], "labelExpr": "datum.value % 1 == 0 ? '' + datum.value : ''", "labelPadding": 25, "titlePadding": 56, "grid": true, "gridColor": "#c3c3c3", "gridWidth": 2.5, "labelOverlap": false, "labelBound": false, "labelFlush": false, "ticks": false, "domain": false}},
           "x2": {"field": "x2"},
           "y": {"field": "y1", "type": "quantitative", "axis": null, "scale": {"domain": [30, 196]}},
           "y2": {"field": "y2"}}},
        {"data": {"values": [{"age":1.146,"cm":186.4,"t":"Mother: 154.7 cm"},{"age":1.146,"cm":181.8,"t":"Father: 166 cm"}]},
         "mark": {"type": "text", "align": "left", "baseline": "alphabetic", "font": "Liberation Sans", "fontWeight": "bold", "fontSize": 48, "color": "#ffffff"},
         "encoding": {
           "x": {"field": "age", "type": "quantitative", "title": "Age", "scale": {"domain": [1, 18.5]}, "axis": {"values": [1,1.5,2,2.5,3,3.5,4,4.5,5,5.5,6,6.5,7,7.5,8,8.5,9,9.5,10,10.5,11,11.5,12,12.5,13,13.5,14,14.5,15,15.5,16,16.5,17,17.5,18,18.5], "labelExpr": "datum.value % 1 == 0 ? '' + datum.value : ''", "labelPadding": 25, "titlePadding": 56, "grid": true, "gridColor": "#c3c3c3", "gridWidth": 2.5, "labelOverlap": false, "labelBound": false, "labelFlush": false, "ticks": false, "domain": false}},
           "y": {"field": "cm", "type": "quantitative", "axis": null, "scale": {"domain": [30, 196]}},
           "text": {"field": "t"}}},
        {"data": {"values": [{"age":3.754,"cm":164.8,"t":"Height"},{"age":3.452,"cm":62.2,"t":"GH Start"}]},
         "mark": {"type": "text", "align": "center", "baseline": "alphabetic", "font": "Liberation Sans", "fontWeight": "bold", "fontSize": 53, "color": "#ffffff"},
         "encoding": {
           "x": {"field": "age", "type": "quantitative", "title": "Age", "scale": {"domain": [1, 18.5]}, "axis": {"values": [1,1.5,2,2.5,3,3.5,4,4.5,5,5.5,6,6.5,7,7.5,8,8.5,9,9.5,10,10.5,11,11.5,12,12.5,13,13.5,14,14.5,15,15.5,16,16.5,17,17.5,18,18.5], "labelExpr": "datum.value % 1 == 0 ? '' + datum.value : ''", "labelPadding": 25, "titlePadding": 56, "grid": true, "gridColor": "#c3c3c3", "gridWidth": 2.5, "labelOverlap": false, "labelBound": false, "labelFlush": false, "ticks": false, "domain": false}},
           "y": {"field": "cm", "type": "quantitative", "axis": null, "scale": {"domain": [30, 196]}},
           "text": {"field": "t"}}},
        {"data": {"values": [{"age":11.98,"cm":36.6,"t":"11-years old patient"}]},
         "mark": {"type": "text", "align": "center", "baseline": "alphabetic", "font": "Liberation Sans", "fontWeight": "bold", "fontSize": 64, "color": "#ffffff"},
         "encoding": {
           "x": {"field": "age", "type": "quantitative", "title": "Age", "scale": {"domain": [1, 18.5]}, "axis": {"values": [1,1.5,2,2.5,3,3.5,4,4.5,5,5.5,6,6.5,7,7.5,8,8.5,9,9.5,10,10.5,11,11.5,12,12.5,13,13.5,14,14.5,15,15.5,16,16.5,17,17.5,18,18.5], "labelExpr": "datum.value % 1 == 0 ? '' + datum.value : ''", "labelPadding": 25, "titlePadding": 56, "grid": true, "gridColor": "#c3c3c3", "gridWidth": 2.5, "labelOverlap": false, "labelBound": false, "labelFlush": false, "ticks": false, "domain": false}},
           "y": {"field": "cm", "type": "quantitative", "axis": null, "scale": {"domain": [30, 196]}},
           "text": {"field": "t"}}},
        {"data": {"values": [{"age":3.206,"y1":67.4,"y2":79.9}]},
         "mark": {"type": "rule", "color": "#0070c0", "strokeWidth": 12.6},
         "encoding": {
           "x": {"field": "age", "type": "quantitative", "title": "Age", "scale": {"domain": [1, 18.5]}, "axis": {"values": [1,1.5,2,2.5,3,3.5,4,4.5,5,5.5,6,6.5,7,7.5,8,8.5,9,9.5,10,10.5,11,11.5,12,12.5,13,13.5,14,14.5,15,15.5,16,16.5,17,17.5,18,18.5], "labelExpr": "datum.value % 1 == 0 ? '' + datum.value : ''", "labelPadding": 25, "titlePadding": 56, "grid": true, "gridColor": "#c3c3c3", "gridWidth": 2.5, "labelOverlap": false, "labelBound": false, "labelFlush": false, "ticks": false, "domain": false}},
           "y": {"field": "y1", "type": "quantitative", "axis": null, "scale": {"domain": [30, 196]}},
           "y2": {"field": "y2"}}},
        {"data": {"values": [{"age":3.206,"cm":81.25}]},
         "mark": {"type": "point", "shape": "M0,-1L-1,1L1,1Z", "filled": true, "color": "#0070c0", "size": 1296, "opacity": 1, "strokeWidth": 0},
         "encoding": {
           "x": {"field": "age", "type": "quantitative", "title": "Age", "scale": {"domain": [1, 18.5]}, "axis": {"values": [1,1.5,2,2.5,3,3.5,4,4.5,5,5.5,6,6.5,7,7.5,8,8.5,9,9.5,10,10.5,11,11.5,12,12.5,13,13.5,14,14.5,15,15.5,16,16.5,17,17.5,18,18.5], "labelExpr": "datum.value % 1 == 0 ? '' + datum.value : ''", "labelPadding": 25, "titlePadding": 56, "grid": true, "gridColor": "#c3c3c3", "gridWidth": 2.5, "labelOverlap": false, "labelBound": false, "labelFlush": false, "ticks": false, "domain": false}},
           "y": {"field": "cm", "type": "quantitative", "axis": null, "scale": {"domain": [30, 196]}}}},
        {"data": {"values": [{"age":1.73,"cm":72.8},{"age":2.65,"cm":80.0},{"age":3.45,"cm":85.5},{"age":4.47,"cm":94.6},{"age":5.45,"cm":101.8},{"age":6.5,"cm":107.9},{"age":7.47,"cm":112.9},{"age":8.45,"cm":120.2},{"age":9.43,"cm":125.0},{"age":10.47,"cm":131.0}]},
         "mark": {"type": "circle", "color": "#c00000", "size": 380, "opacity": 1},
         "encoding": {
           "x": {"field": "age", "type": "quantitative", "title": "Age", "scale": {"domain": [1, 18.5]}, "axis": {"values": [1,1.5,2,2.5,3,3.5,4,4.5,5,5.5,6,6.5,7,7.5,8,8.5,9,9.5,10,10.5,11,11.5,12,12.5,13,13.5,14,14.5,15,15.5,16,16.5,17,17.5,18,18.5], "labelExpr": "datum.value % 1 == 0 ? '' + datum.value : ''", "labelPadding": 25, "titlePadding": 56, "grid": true, "gridColor": "#c3c3c3", "gridWidth": 2.5, "labelOverlap": false, "labelBound": false, "labelFlush": false, "ticks": false, "domain": false}},
           "y": {"field": "cm", "type": "quantitative", "axis": null, "scale": {"domain": [30, 196]}}}},
        {"data": {"name": "side"},
         "mark": {"type": "text", "align": "right", "baseline": "middle", "dx": -15, "font": "Liberation Sans", "fontSize": 28, "color": "#3a3a3a"},
         "encoding": {
           "x": {"field": "age", "type": "quantitative", "title": "Age", "scale": {"domain": [1, 18.5]}, "axis": {"values": [1,1.5,2,2.5,3,3.5,4,4.5,5,5.5,6,6.5,7,7.5,8,8.5,9,9.5,10,10.5,11,11.5,12,12.5,13,13.5,14,14.5,15,15.5,16,16.5,17,17.5,18,18.5], "labelExpr": "datum.value % 1 == 0 ? '' + datum.value : ''", "labelPadding": 25, "titlePadding": 56, "grid": true, "gridColor": "#c3c3c3", "gridWidth": 2.5, "labelOverlap": false, "labelBound": false, "labelFlush": false, "ticks": false, "domain": false}},
           "y": {"field": "cm", "type": "quantitative", "axis": null, "scale": {"domain": [30, 196]}},
           "text": {"field": "t"}}}
      ]
    }
  ]
}
